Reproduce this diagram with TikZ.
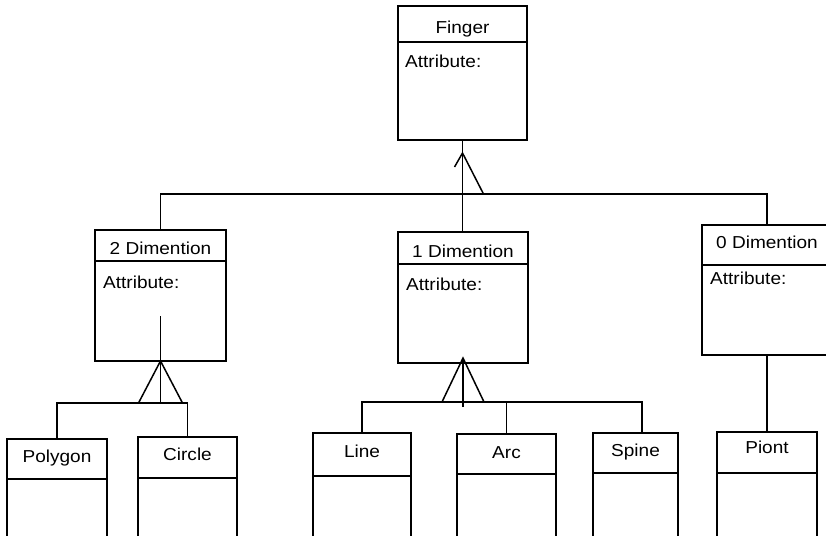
\documentclass[tikz,border=0pt]{standalone}
\usepackage{fontspec}
\setmainfont{Liberation Sans}[FakeStretch=1.1]
\usetikzlibrary{calc}

% class box: name, left, top, right, bottom, divider, title y, title
\newcommand\classnode[8]{%
  \node[classbox, minimum width={(#4)-(#2)}, minimum height={(#5)-(#3)}]
    (#1) at ({((#2)+(#4))/2},{((#3)+(#5))/2}) {};
  \draw[ln] (#2,#6) -- (#4,#6);
  \node[titletext] (#1-title) at ({((#2)+(#4))/2},#7) {#8};
}

\begin{document}
\begin{tikzpicture}[x=1pt,y=-1pt,
  ln/.style={draw=black, line width=1.5pt},
  classbox/.style={ln, rectangle, inner sep=0pt, outer sep=0pt},
  titletext/.style={font=\fontsize{17.3}{20}\selectfont, inner sep=0pt,
    text height=12.4pt, text depth=0pt, anchor=center},
  attrtext/.style={font=\fontsize{17.3}{20}\selectfont, inner sep=0pt,
    anchor=base west},
]
\useasboundingbox (0,0) rectangle (826,535);
\fill[white] (0,0) rectangle (826,535);
\clip (0,0) rectangle (826,535);

% classes
\classnode{fin}{398}{6}{527}{140}{42}{27.5}{Finger}
\classnode{dim2}{95}{230}{226}{361}{261}{248.5}{2 Dimention}
\classnode{dim1}{398}{232}{528}{363}{264}{251}{1 Dimention}
\classnode{dim0}{702}{225}{832}{355}{265}{242}{0 Dimention}
\classnode{poly}{7}{439}{107}{560}{479}{456}{Polygon}
\classnode{circ}{138}{437}{237}{560}{478}{454}{Circle}
\classnode{line}{313}{433}{411}{560}{476}{451.5}{Line}
\classnode{arc}{457}{434}{556}{560}{474}{452}{Arc}
\classnode{spine}{593}{433}{678}{560}{473}{450}{Spine}
\classnode{piont}{717}{432}{817}{560}{473}{447.5}{Piont}

\node[attrtext] (fin-attr)  at (405,67)  {Attribute:};
\node[attrtext] (dim2-attr) at (103,288) {Attribute:};
\node[attrtext] (dim1-attr) at (406,290) {Attribute:};
\node[attrtext] (dim0-attr) at (710,284) {Attribute:};

% bus points and stubs
\coordinate (busA) at (462.5,194);
\coordinate (finApex) at (462.5,153);
\coordinate (busB) at (160.5,403);
\coordinate (dim2stub) at (160.5,316);
\coordinate (busC) at (463,402);
\coordinate (d1apex) at (463,358);
\coordinate (spineTop) at (642,433);

% Finger generalisation
\draw[ln] (fin.south) -- (fin.south |- dim1.north);
\draw[ln] (dim2.north) |- (busA) -| (dim0.north);
\draw[ln] (finApex) ++(-8,14) -- (finApex) -- ++(21,41);

% 2 Dimention generalisation
\draw[ln] (dim2stub) -- (busB);
\draw[ln] (poly.north) |- (busB) -| (circ.north);
\draw[ln] (dim2.south) ++(-22,42) -- (dim2.south) -- ++(22,42);

% 1 Dimention generalisation
\draw[ln] (d1apex) -- ++(0,49);
\draw[ln] (line.north) |- (busC) -| (spineTop);
\draw[ln] (arc.north |- busC) -- (arc.north);
\draw[ln] (d1apex) ++(-21,44) -- (d1apex) -- ++(21,44);

% 0 Dimention link
\draw[ln] (dim0.south) -- (piont.north);
\end{tikzpicture}
\end{document}
